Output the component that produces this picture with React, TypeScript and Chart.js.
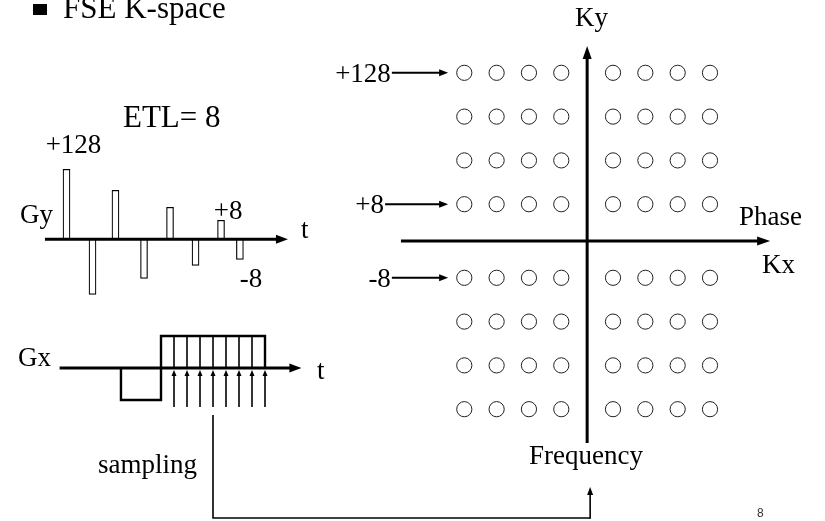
import React, { useEffect, useRef } from 'react';
import { Chart, registerables } from 'chart.js';

Chart.register(...registerables);

// ---- data ----
const kxColumns = [-4, -3, -2, -1, 1, 2, 3, 4];
const kyRows = [4, 3, 2, 1, -1, -2, -3, -4];
const kyRowLabels = ['+128', '', '', '+8', '-8', '', '', ''];
const gyLobeTimes = [1.0, 2.02, 2.92, 4.04, 5.06, 6.06, 7.06, 7.8];
const gyLobeAmplitudes = [70, -55, 49, -39, 32, -26, 19, -20];
const gyLobeLabels = ['+128', '', '', '', '', '', '+8', '-8'];
const gxWaveTimes = [-3.08, -3.08, 0, 0, 8, 8];
const gxWaveAmplitudes = [0, -1, -1, 1, 1, 0];
const samplingTimes = [1, 2, 3, 4, 5, 6, 7, 8];

const SERIF = '"Liberation Serif", "Times New Roman", serif';
const shift = (v: number, g: number) => v - Math.sign(v) * g;

function arrow(ctx: CanvasRenderingContext2D, x1: number, y1: number, x2: number, y2: number, lw: number, hl: number, hw: number) {
  const dx = x2 - x1, dy = y2 - y1;
  const len = Math.hypot(dx, dy);
  const ux = dx / len, uy = dy / len;
  const bx = x2 - ux * hl, by = y2 - uy * hl;
  ctx.save();
  ctx.strokeStyle = '#000';
  ctx.fillStyle = '#000';
  ctx.lineWidth = lw;
  ctx.beginPath();
  ctx.moveTo(x1, y1);
  ctx.lineTo(bx + ux, by + uy);
  ctx.stroke();
  ctx.beginPath();
  ctx.moveTo(x2, y2);
  ctx.lineTo(bx - uy * hw / 2, by + ux * hw / 2);
  ctx.lineTo(bx + uy * hw / 2, by - ux * hw / 2);
  ctx.closePath();
  ctx.fill();
  ctx.restore();
}

function text(ctx: CanvasRenderingContext2D, s: string, x: number, y: number, size: number, align: CanvasTextAlign = 'left', font = SERIF, color = '#000') {
  ctx.save();
  ctx.font = `${size}px ${font}`;
  ctx.fillStyle = color;
  ctx.textAlign = align;
  ctx.textBaseline = 'alphabetic';
  ctx.fillText(s, x, y);
  ctx.restore();
}

const diagramPlugin = {
  id: 'diagram',
  beforeDraw(chart: any) {
    const ctx = chart.ctx;
    ctx.save();
    ctx.fillStyle = '#fff';
    ctx.fillRect(0, 0, chart.width, chart.height);
    ctx.restore();
  },
  afterDatasetsDraw(chart: any) {
    const ctx: CanvasRenderingContext2D = chart.ctx;
    const sc = chart.scales;
    const P = (id: string, v: number) => sc[id].getPixelForValue(v);

    // title
    ctx.save();
    ctx.fillStyle = '#000';
    ctx.fillRect(33, 4, 14, 11);
    ctx.restore();
    text(ctx, 'FSE K-space', 63, 17.5, 31);
    text(ctx, 'ETL= 8', 123, 127, 31);

    // Gy axis
    const gy0 = P('gy', 0);
    arrow(ctx, P('gt', -0.12), gy0, P('gt', 9.41), gy0, 3, 12, 9);
    text(ctx, 'Gy', 20, 223, 27);
    text(ctx, 't', 301, 238, 27);
    const gyLabelDy = [-16, 0, 0, 0, 0, 0, -1, 28];
    gyLobeLabels.forEach((lab, i) => {
      if (!lab) return;
      const x = P('gt', gyLobeTimes[i]) + (gyLobeAmplitudes[i] < 0 ? 4 : 0);
      text(ctx, lab, x, P('gy', gyLobeAmplitudes[i]) + gyLabelDy[i], 27, 'center');
    });

    // Gx axis
    const gx0 = P('gxa', 0);
    arrow(ctx, P('gxs', -7.8), gx0, P('gxs', 10.8), gx0, 3, 12, 9);
    text(ctx, 'Gx', 18, 366, 27);
    text(ctx, 't', 317, 379, 27);
    ctx.save();
    ctx.strokeStyle = '#000';
    ctx.lineWidth = 1.6;
    samplingTimes.slice(0, -1).forEach((s) => {
      const x = P('gxs', s);
      ctx.beginPath();
      ctx.moveTo(x, gx0);
      ctx.lineTo(x, P('gxa', 1));
      ctx.stroke();
    });
    ctx.restore();
    samplingTimes.forEach((s) => {
      const x = P('gxs', s);
      arrow(ctx, x, P('gxa', -1.22), x, P('gxa', -0.06), 1.6, 6, 5);
    });
    text(ctx, 'sampling', 98, 473, 27);

    // connector sampling -> frequency
    const cx = P('gxs', 4);
    const bottom = P('ky', -6.324);
    const kx0 = P('kx', 0);
    ctx.save();
    ctx.strokeStyle = '#000';
    ctx.lineWidth = 1.6;
    ctx.beginPath();
    ctx.moveTo(cx, P('gxa', -1.47));
    ctx.lineTo(cx, bottom);
    ctx.lineTo(kx0 + 3, bottom);
    ctx.stroke();
    ctx.restore();
    arrow(ctx, kx0 + 3, bottom + 0.8, kx0 + 3, P('ky', -5.616), 1.6, 8, 6);

    // k-space axes
    const ky0 = P('ky', 0);
    arrow(ctx, kx0, P('ky', -4.61), kx0, P('ky', 4.45), 3, 13, 9);
    arrow(ctx, P('kx', -5.76), ky0, P('kx', 5.66), ky0, 3, 13, 9);
    text(ctx, 'Ky', 575, 26, 27);
    text(ctx, 'Phase', 739, 225, 27);
    text(ctx, 'Kx', 762, 273, 27);
    text(ctx, 'Frequency', 529, 464, 27);

    // row labels
    kyRows.forEach((r, i) => {
      const lab = kyRowLabels[i];
      if (!lab) return;
      const y = P('ky', shift(r, 0.16));
      const start = lab === '+8' ? -6.25 : -6.04;
      const xs = P('kx', start);
      arrow(ctx, xs, y, P('kx', -4.3), y, 2, 9, 7);
      text(ctx, lab, xs - 1, y + 9, 27, 'right');
    });

    // page number
    text(ctx, '8', 757, 517, 12, 'left', '"Liberation Sans", Arial, sans-serif', '#333');
  },
};

export default function App() {
  const ref = useRef<HTMLCanvasElement | null>(null);
  useEffect(() => {
    if (!ref.current) return;
    const kPoints = kyRows.flatMap((r) => kxColumns.map((c) => ({ x: shift(c, 0.2), y: shift(r, 0.16) })));
    const hidden = (axis: string, min: number, max: number) => ({
      type: 'linear',
      axis,
      position: axis === 'x' ? 'bottom' : 'left',
      display: false,
      offset: false,
      grace: 0,
      min,
      max,
    });
    const chart = new Chart(ref.current, {
      type: 'bar',
      data: {
        datasets: [
          {
            type: 'bar',
            label: 'Gy',
            data: gyLobeTimes.map((t, i) => ({ x: t, y: gyLobeAmplitudes[i] })),
            xAxisID: 'gt',
            yAxisID: 'gy',
            backgroundColor: '#fff',
            borderColor: '#000',
            borderWidth: 1.2,
            barThickness: 7,
          } as any,
          {
            type: 'line',
            label: 'Gx',
            data: gxWaveTimes.map((t, i) => ({ x: t, y: gxWaveAmplitudes[i] })),
            xAxisID: 'gxs',
            yAxisID: 'gxa',
            borderColor: '#000',
            borderWidth: 2.4,
            pointRadius: 0,
            fill: false,
            tension: 0,
          } as any,
          {
            type: 'scatter',
            label: 'k-space',
            data: kPoints,
            xAxisID: 'kx',
            yAxisID: 'ky',
            pointRadius: 7.6,
            pointBorderWidth: 1,
            pointBorderColor: '#222',
            pointBackgroundColor: '#fff',
            showLine: false,
          } as any,
        ],
      },
      options: {
        responsive: false,
        animation: false,
        events: [],
        layout: { padding: 0, autoPadding: false },
        plugins: { legend: { display: false }, tooltip: { enabled: false }, title: { display: false } },
        scales: {
          gt: hidden('x', -1.8824, 30.471),
          gy: hidden('y', -281.7, 239.3),
          gxs: hidden('x', -12.385, 51.077),
          gxa: hidden('y', -4.781, 11.5),
          kx: hidden('x', -18.161, 7.357),
          ky: hidden('y', -6.3927, 5.5023),
        } as any,
      },
      plugins: [diagramPlugin],
    });
    return () => chart.destroy();
  }, []);
  return (
    <div style={{ position: 'fixed', left: 0, top: 0, width: 825, height: 521, background: '#fff' }}>
      <canvas ref={ref} width={825} height={521} style={{ display: 'block' }} />
    </div>
  );
}
